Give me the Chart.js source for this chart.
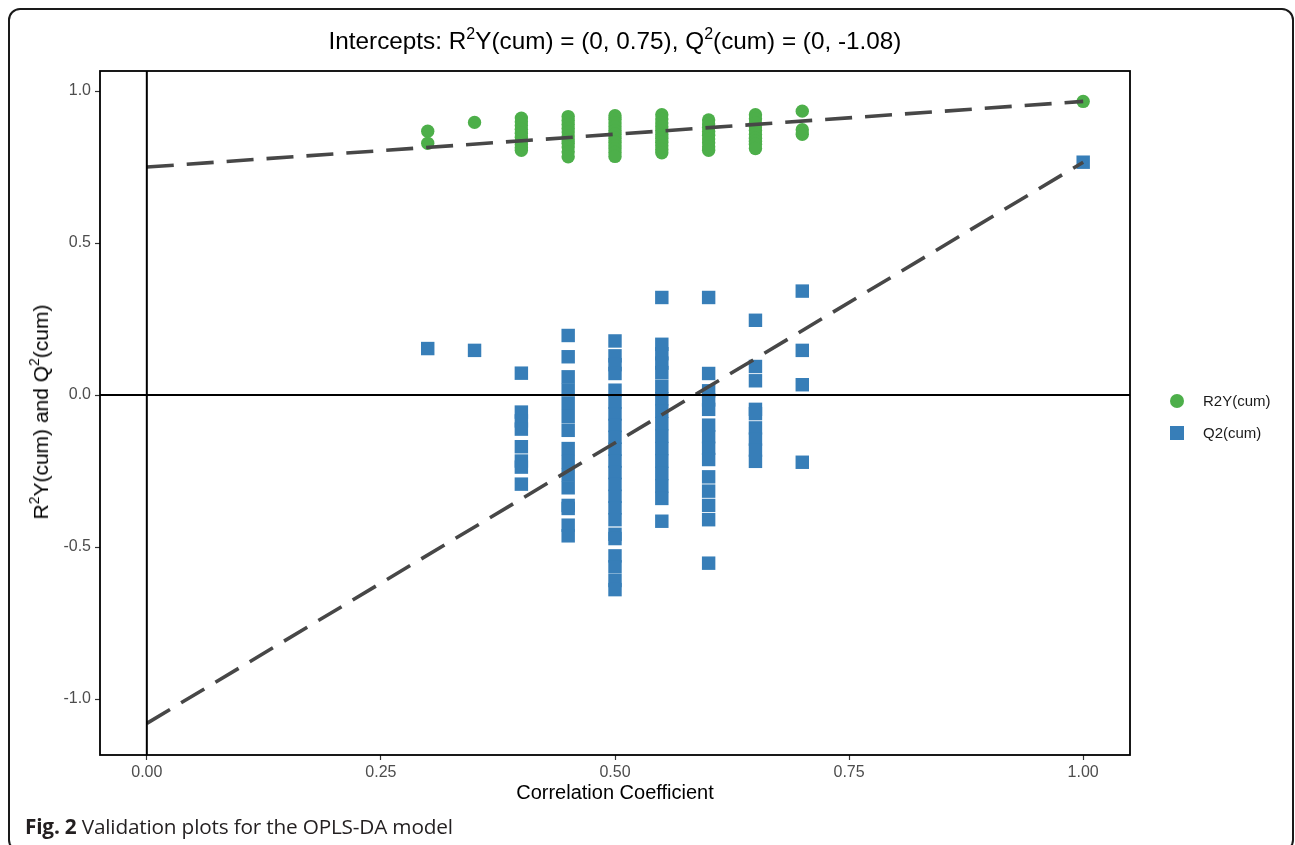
<!DOCTYPE html>
<html>
<head>
<meta charset="utf-8">
<script src="https://cdn.jsdelivr.net/npm/chart.js@4.4.1/dist/chart.umd.min.js"></script>
<style>
  html, body { margin:0; padding:0; background:#fff; }
  #wrap { position:relative; width:1295px; height:845px; overflow:hidden; font-family:"Liberation Sans", Arial, sans-serif; }
  #c { position:absolute; left:0; top:0; }
  .frame { position:absolute; left:8px; top:8px; width:1282px; height:840px; border:2px solid #1a1a1a; border-radius:12px; pointer-events:none; }
  .title { position:absolute; left:100px; width:1030px; top:26px; text-align:center; font-size:24.3px; line-height:30px; color:#000; }
  .title sup, .ytitle sup { font-size:66%; vertical-align:0; position:relative; top:-0.62em; }
  .xtitle { position:absolute; left:100px; width:1030px; top:780px; text-align:center; font-size:20px; line-height:24px; color:#000; }
  .ytitle { position:absolute; left:42px; top:412px; transform:translate(-50%,-50%) rotate(-90deg); white-space:nowrap; font-size:21px; line-height:24px; color:#000; }
  .leg { position:absolute; font-size:15px; line-height:18px; color:#1a1a1a; left:1203px; }
  .dot { position:absolute; width:14px; height:14px; border-radius:50%; background:#4daf4a; left:1170px; top:394px; }
  .sq { position:absolute; width:14px; height:14px; background:#377eb8; left:1170px; top:426px; }
  .caption { position:absolute; left:25px; top:813px; font-family:"Open Sans", "Noto Sans", sans-serif; font-size:20.8px; line-height:26px; color:#231f20; letter-spacing:-0.2px; }
</style>
</head>
<body>
<div id="wrap">
  <canvas id="c" width="1295" height="845"></canvas>
  <div class="title">Intercepts: R<sup>2</sup>Y(cum) = (0, 0.75), Q<sup>2</sup>(cum) = (0, -1.08)</div>
  <div class="ytitle">R<sup>2</sup>Y(cum) and Q<sup>2</sup>(cum)</div>
  <div class="xtitle">Correlation Coefficient</div>
  <div class="dot"></div><div class="leg" style="top:392px">R2Y(cum)</div>
  <div class="sq"></div><div class="leg" style="top:424px">Q2(cum)</div>
  <div class="caption"><b>Fig. 2</b> Validation plots for the OPLS-DA model</div>
  <div class="frame"></div>
</div>
<script>
// ---- data ----
const xTicks = [0, 0.25, 0.5, 0.75, 1];
const yTicks = [-1, -0.5, 0, 0.5, 1];

const r2Corr = [
  0.3, 0.3,
  0.35,
  0.4, 0.4, 0.4, 0.4, 0.4, 0.4, 0.4, 0.4, 0.4, 0.4,
  0.45, 0.45, 0.45, 0.45, 0.45, 0.45, 0.45, 0.45, 0.45, 0.45, 0.45,
  0.5, 0.5, 0.5, 0.5, 0.5, 0.5, 0.5, 0.5, 0.5, 0.5, 0.5, 0.5,
  0.55, 0.55, 0.55, 0.55, 0.55, 0.55, 0.55, 0.55, 0.55, 0.55, 0.55,
  0.6, 0.6, 0.6, 0.6, 0.6, 0.6, 0.6, 0.6, 0.6,
  0.65, 0.65, 0.65, 0.65, 0.65, 0.65, 0.65, 0.65, 0.65, 0.65,
  0.7, 0.7, 0.7,
  1.0
];
const r2Vals = [
  0.868, 0.828,
  0.897,
  0.911, 0.899, 0.887, 0.874, 0.861, 0.848, 0.836, 0.824, 0.814, 0.805,
  0.916, 0.903, 0.890, 0.877, 0.865, 0.852, 0.840, 0.828, 0.816, 0.800, 0.784,
  0.919, 0.907, 0.895, 0.883, 0.870, 0.858, 0.845, 0.832, 0.820, 0.810, 0.798, 0.785,
  0.922, 0.908, 0.895, 0.883, 0.870, 0.857, 0.845, 0.832, 0.820, 0.808, 0.797,
  0.905, 0.892, 0.880, 0.867, 0.855, 0.842, 0.830, 0.817, 0.805,
  0.922, 0.909, 0.895, 0.882, 0.870, 0.857, 0.845, 0.835, 0.825, 0.811,
  0.934, 0.873, 0.858,
  0.966
];

const q2Corr = [
  0.3,
  0.35,
  0.4, 0.4, 0.4, 0.4, 0.4, 0.4, 0.4, 0.4,
  0.45, 0.45, 0.45, 0.45, 0.45, 0.45, 0.45, 0.45, 0.45, 0.45, 0.45, 0.45, 0.45, 0.45, 0.45,
  0.5, 0.5, 0.5, 0.5, 0.5, 0.5, 0.5, 0.5, 0.5, 0.5, 0.5, 0.5, 0.5, 0.5, 0.5, 0.5, 0.5, 0.5, 0.5, 0.5, 0.5, 0.5,
  0.55, 0.55, 0.55, 0.55, 0.55, 0.55, 0.55, 0.55, 0.55, 0.55, 0.55, 0.55, 0.55, 0.55, 0.55, 0.55,
  0.6, 0.6, 0.6, 0.6, 0.6, 0.6, 0.6, 0.6, 0.6, 0.6, 0.6, 0.6, 0.6, 0.6,
  0.65, 0.65, 0.65, 0.65, 0.65, 0.65, 0.65, 0.65, 0.65,
  0.7, 0.7, 0.7, 0.7,
  1.0
];
const q2Vals = [
  0.153,
  0.147,
  0.072, -0.056, -0.085, -0.112, -0.170, -0.217, -0.237, -0.293,
  0.196, 0.126, 0.060, 0.017, -0.027, -0.071, -0.116, -0.176, -0.219, -0.262, -0.305, -0.363, -0.373, -0.428, -0.463,
  0.178, 0.129, 0.100, 0.071, 0.016, -0.023, -0.062, -0.100, -0.139, -0.178, -0.217, -0.255, -0.294, -0.333, -0.371, -0.410, -0.458, -0.472, -0.529, -0.565, -0.610, -0.640,
  0.321, 0.167, 0.136, 0.105, 0.074, 0.029, -0.012, -0.053, -0.094, -0.135, -0.176, -0.217, -0.258, -0.299, -0.340, -0.415,
  0.321, 0.071, 0.014, -0.016, -0.047, -0.099, -0.137, -0.175, -0.212, -0.269, -0.316, -0.363, -0.410, -0.553,
  0.246, 0.094, 0.047, -0.047, -0.061, -0.108, -0.145, -0.181, -0.218,
  0.342, 0.147, 0.034, -0.221,
  0.766
];

// regression lines: from intercept (x=0) to original model (x=1)
const r2LineX = [0, 1];
const r2LineY = [0.75, 0.966];
const q2LineX = [0, 1];
const q2LineY = [-1.08, 0.766];

// ---- build ----
const zip = (xs, ys) => xs.map((x, i) => ({ x: x, y: ys[i] }));

const panelPlugin = {
  id: 'panel',
  afterDatasetsDraw(chart) {
    const { ctx, chartArea: a, scales } = chart;
    const x0 = scales.x.getPixelForValue(0);
    const y0 = scales.y.getPixelForValue(0);
    ctx.save();
    ctx.strokeStyle = '#000';
    ctx.lineWidth = 2;
    ctx.beginPath();
    ctx.moveTo(a.left, y0); ctx.lineTo(a.right, y0);
    ctx.moveTo(x0, a.top); ctx.lineTo(x0, a.bottom);
    ctx.stroke();
    ctx.restore();
  },
  afterDraw(chart) {
    const { ctx, chartArea: a } = chart;
    ctx.save();
    ctx.strokeStyle = '#000';
    ctx.lineWidth = 1.8;
    ctx.strokeRect(a.left, a.top, a.right - a.left, a.bottom - a.top);
    ctx.restore();
  }
};

const tickFont = { family: '"Liberation Sans", Arial, sans-serif', size: 16 };

new Chart(document.getElementById('c'), {
  type: 'scatter',
  data: {
    datasets: [
      {
        label: 'R2Y line', type: 'line', data: zip(r2LineX, r2LineY), order: 0,
        borderColor: '#474747', borderWidth: 3.6, borderDash: [27, 13], pointRadius: 0, fill: false, tension: 0
      },
      {
        label: 'Q2 line', type: 'line', data: zip(q2LineX, q2LineY), order: 0,
        borderColor: '#474747', borderWidth: 3.6, borderDash: [27, 13], pointRadius: 0, fill: false, tension: 0
      },
      {
        label: 'R2Y(cum)', data: zip(r2Corr, r2Vals), order: 1,
        pointStyle: 'circle', pointRadius: 6.7, pointHoverRadius: 6.7,
        backgroundColor: '#4daf4a', borderWidth: 0
      },
      {
        label: 'Q2(cum)', data: zip(q2Corr, q2Vals), order: 2,
        pointStyle: 'rect', pointRadius: 9.5, pointHoverRadius: 9.5,
        backgroundColor: '#377eb8', borderWidth: 0
      }
    ]
  },
  options: {
    responsive: false,
    animation: false,
    events: [],
    layout: { padding: { left: 40, right: 165, top: 71, bottom: 60 } },
    plugins: { legend: { display: false }, tooltip: { enabled: false }, title: { display: false } },
    scales: {
      x: {
        type: 'linear', min: -0.05, max: 1.05,
        afterBuildTicks: (ax) => { ax.ticks = xTicks.map(v => ({ value: v })); },
        afterFit: (ax) => { ax.height = 30; },
        ticks: { font: tickFont, color: '#4d4d4d', padding: 3, maxRotation: 0, autoSkip: false,
                 callback: (v) => Number(v).toFixed(2) },
        grid: { drawOnChartArea: false, drawTicks: true, tickLength: 5, tickColor: '#333', tickWidth: 1.2 },
        border: { display: false }
      },
      y: {
        type: 'linear', min: -1.184, max: 1.066,
        afterBuildTicks: (ax) => { ax.ticks = yTicks.map(v => ({ value: v })); },
        afterFit: (ax) => { ax.width = 60; },
        ticks: { font: tickFont, color: '#4d4d4d', padding: 4, autoSkip: false,
                 callback: (v) => Number(v).toFixed(1) },
        grid: { drawOnChartArea: false, drawTicks: true, tickLength: 5, tickColor: '#333', tickWidth: 1.2 },
        border: { display: false }
      }
    }
  },
  plugins: [panelPlugin]
});
</script>
</body>
</html>
